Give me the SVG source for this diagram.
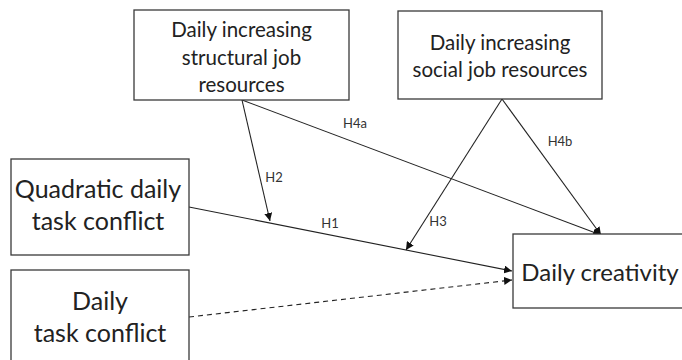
<svg xmlns="http://www.w3.org/2000/svg" width="682" height="360" viewBox="0 0 682 360">
  <style>
    .box { fill: #ffffff; stroke: #3a3a3a; stroke-width: 1.3; }
    .t { font-family: Lato, "Open Sans", "Liberation Sans", sans-serif; fill: #222222; text-anchor: middle; }
    .mid { font-size: 20.5px; }
    .big { font-size: 25px; }
    .lbl { font-family: Lato, "Open Sans", "Liberation Sans", sans-serif; font-size: 13px; fill: #333333; text-anchor: middle; }
    .edge { stroke: #222222; stroke-width: 1.1; fill: none; marker-end: url(#arrow); }
    .dash { stroke-dasharray: 5 4; }
  </style>
  <defs>
    <marker id="arrow" viewBox="0 0 10 10" refX="10" refY="5" markerWidth="8" markerHeight="8" markerUnits="userSpaceOnUse" orient="auto">
      <path d="M0,0 L10,5 L0,10 z" fill="#111111"/>
    </marker>
  </defs>
  <rect width="682" height="360" fill="#ffffff"/>

  <!-- connectors -->
  <g id="connectors">
    <line class="edge" x1="189" y1="207" x2="512" y2="271"/>
    <line class="edge dash" x1="189" y1="317" x2="512" y2="280"/>
    <line class="edge" x1="242" y1="100" x2="270" y2="221"/>
    <line class="edge" x1="242" y1="100" x2="601" y2="235"/>
    <line class="edge" x1="502" y1="99" x2="406" y2="250"/>
    <line class="edge" x1="502" y1="99" x2="601" y2="235"/>
    <text class="lbl" x="355" y="128">H4a</text>
    <text class="lbl" x="274" y="182">H2</text>
    <text class="lbl" x="330" y="228">H1</text>
    <text class="lbl" x="438" y="226">H3</text>
    <text class="lbl" x="560" y="146">H4b</text>
  </g>

  <!-- nodes -->
  <g id="structural-resources">
    <rect class="box" x="134" y="10" width="215" height="90"/>
    <text class="t mid" x="241.5" y="37">Daily increasing</text>
    <text class="t mid" x="241.5" y="65">structural job</text>
    <text class="t mid" x="241.5" y="92">resources</text>
  </g>
  <g id="social-resources">
    <rect class="box" x="398" y="11" width="204" height="88"/>
    <text class="t mid" x="500" y="50">Daily increasing</text>
    <text class="t mid" x="500" y="77">social job resources</text>
  </g>
  <g id="quadratic-conflict">
    <rect class="box" x="11" y="159" width="178" height="96"/>
    <text class="t big" x="98" y="198">Quadratic daily</text>
    <text class="t big" x="98" y="230">task conflict</text>
  </g>
  <g id="task-conflict">
    <rect class="box" x="11" y="270" width="178" height="100"/>
    <text class="t big" x="100" y="310">Daily</text>
    <text class="t big" x="100" y="342">task conflict</text>
  </g>
  <g id="creativity">
    <rect class="box" x="513" y="234" width="180" height="74"/>
    <text class="t big" x="600" y="281" style="font-size:24px">Daily creativity</text>
  </g>
</svg>
